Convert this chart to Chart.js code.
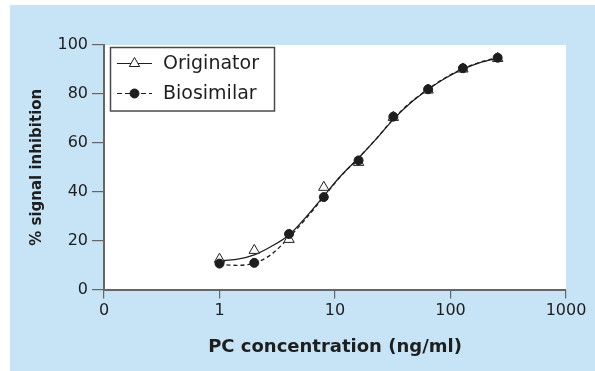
<!DOCTYPE html>
<html>
<head>
<meta charset="utf-8">
<script src="https://cdn.jsdelivr.net/npm/chart.js@4/dist/chart.umd.min.js"></script>
<style>
  html, body { margin: 0; padding: 0; background: #fff; }
  #wrap { width: 595px; height: 371px; }
</style>
</head>
<body>
<div id="wrap"><canvas id="chart" width="595" height="371"></canvas></div>
<script>
// measured points (ng/ml vs % inhibition)
const concentrations = [1, 2, 4, 8, 16, 32, 64, 128, 256];
const originatorValues = [12.4, 16, 20.5, 41.8, 52, 70.4, 81.6, 90.2, 94.5];
const biosimilarValues = [10.6, 10.9, 22.7, 37.8, 52.8, 70.7, 81.9, 90.5, 94.8];

// fitted curves
const fitConcentrations = [1, 1.4, 2, 2.8, 4, 5.7, 8, 11, 16, 23, 32, 45, 64, 90, 128, 180, 256];
const originatorFit = [11.8, 12.3, 14.2, 17.6, 22.3, 30, 38.2, 46, 53.8, 61.8, 69.6, 76.3, 81.8, 86.4, 90.1, 92.8, 94.6];
const biosimilarFit = [10.3, 9.9, 10.8, 14.3, 21.3, 29.4, 37.9, 45.9, 53.8, 61.9, 69.8, 76.5, 82, 86.6, 90.3, 93, 94.9];

// axis ticks
const xTickValues = [0.1, 1, 10, 100, 1000];
const xTickLabels = ["0", "1", "10", "100", "1000"];
const yTicks = [0, 20, 40, 60, 80, 100];

const seriesNames = ["Originator", "Biosimilar"];

const toPoints = (xs, ys) => xs.map((x, i) => ({ x: x, y: ys[i] }));

const ink = "#1e1e1e";
const axisGrey = "#666";
const bgBlue = "#c6e4f6";

// light blue panel with the white plot area
const backgroundPlugin = {
  id: "panel",
  beforeDraw(chart) {
    const ctx = chart.ctx;
    const a = chart.chartArea;
    ctx.save();
    ctx.fillStyle = "#fff";
    ctx.fillRect(0, 0, chart.width, chart.height);
    ctx.fillStyle = bgBlue;
    ctx.fillRect(10, 5, chart.width - 10, chart.height - 5);
    ctx.fillStyle = "#fff";
    ctx.fillRect(a.left, a.top, a.right - a.left, a.bottom - a.top);
    ctx.restore();
  },
};

// boxed legend with line + marker samples
const legendPlugin = {
  id: "boxLegend",
  afterDraw(chart) {
    const ctx = chart.ctx;
    const h = Chart.helpers;
    ctx.save();
    ctx.fillStyle = "#fff";
    ctx.fillRect(110, 47, 164, 64);
    ctx.strokeStyle = "#4a4a4a";
    ctx.lineWidth = 1.5;
    ctx.strokeRect(110.5, 47.5, 164, 63.5);

    const rows = [
      { y: 63.5, dash: [], marker: { pointStyle: "triangle", radius: 6, borderWidth: 1, backgroundColor: "#fff", borderColor: ink } },
      { y: 93.5, dash: [5, 3], marker: { pointStyle: "circle", radius: 4.5, borderWidth: 1, backgroundColor: ink, borderColor: ink } },
    ];
    rows.forEach((r, i) => {
      ctx.strokeStyle = ink;
      ctx.lineWidth = 1.2;
      ctx.setLineDash(r.dash);
      ctx.beginPath();
      ctx.moveTo(117, r.y);
      ctx.lineTo(152, r.y);
      ctx.stroke();
      ctx.setLineDash([]);
      ctx.fillStyle = r.marker.backgroundColor;
      ctx.strokeStyle = r.marker.borderColor;
      ctx.lineWidth = r.marker.borderWidth;
      h.drawPoint(ctx, r.marker, 134.5, r.y);
      ctx.fillStyle = ink;
      ctx.font = "19px 'DejaVu Sans'";
      ctx.textBaseline = "middle";
      ctx.textAlign = "left";
      ctx.fillText(seriesNames[i], 163, r.y + 1);
    });
    ctx.restore();
  },
};

const ctx = document.getElementById("chart").getContext("2d");
new Chart(ctx, {
  type: "scatter",
  data: {
    datasets: [
      {
        label: seriesNames[1],
        data: toPoints(concentrations, biosimilarValues),
        showLine: false,
        pointStyle: "circle",
        pointRadius: 4.5,
        pointBackgroundColor: ink,
        pointBorderColor: ink,
        pointBorderWidth: 1,
        order: 0,
      },
      {
        label: seriesNames[0],
        data: toPoints(concentrations, originatorValues),
        showLine: false,
        pointStyle: "triangle",
        pointRadius: 6,
        pointBackgroundColor: "#fff",
        pointBorderColor: ink,
        pointBorderWidth: 1,
        order: 1,
      },
      {
        label: seriesNames[0] + " fit",
        data: toPoints(fitConcentrations, originatorFit),
        showLine: true,
        borderColor: ink,
        borderWidth: 1.3,
        pointRadius: 0,
        cubicInterpolationMode: "monotone",
        order: 2,
      },
      {
        label: seriesNames[1] + " fit",
        data: toPoints(fitConcentrations, biosimilarFit),
        showLine: true,
        borderColor: ink,
        borderWidth: 1.3,
        borderDash: [4, 3],
        pointRadius: 0,
        cubicInterpolationMode: "monotone",
        order: 3,
      },
    ],
  },
  options: {
    responsive: false,
    animation: false,
    layout: { padding: { left: 10, top: 45, right: 29, bottom: 0 } },
    plugins: {
      legend: { display: false },
      tooltip: { enabled: false },
    },
    scales: {
      x: {
        type: "logarithmic",
        min: xTickValues[0],
        max: xTickValues[xTickValues.length - 1],
        afterBuildTicks(scale) {
          scale.ticks = xTickValues.map((v) => ({ value: v }));
        },
        afterFit(scale) {
          scale.height = 81.5;
        },
        grid: {
          drawOnChartArea: false,
          drawTicks: true,
          tickLength: 9,
          color: axisGrey,
          lineWidth: 1.2,
        },
        border: { color: axisGrey, width: 2 },
        ticks: {
          autoSkip: false,
          maxRotation: 0,
          padding: 3,
          color: ink,
          font: { family: "DejaVu Sans", size: 16 },
          callback(value) {
            const i = xTickValues.indexOf(value);
            return i >= 0 ? xTickLabels[i] : "";
          },
        },
        title: {
          display: true,
          text: "PC concentration (ng/ml)",
          color: ink,
          font: { family: "DejaVu Sans", size: 18, weight: "bold" },
          padding: { top: 0, bottom: 13 },
        },
      },
      y: {
        min: yTicks[0],
        max: yTicks[yTicks.length - 1],
        afterBuildTicks(scale) {
          scale.ticks = yTicks.map((v) => ({ value: v }));
        },
        afterFit(scale) {
          scale.width = 94;
        },
        grid: {
          drawOnChartArea: false,
          drawTicks: true,
          tickLength: 12,
          color: axisGrey,
          lineWidth: 1.2,
        },
        border: { color: axisGrey, width: 2 },
        ticks: {
          padding: 4,
          color: ink,
          font: { family: "DejaVu Sans", size: 16 },
        },
        title: {
          display: true,
          text: "% signal inhibition",
          color: ink,
          font: { family: "DejaVu Sans", size: 15, weight: "bold" },
          padding: { top: 18, bottom: 0 },
        },
      },
    },
  },
  plugins: [backgroundPlugin, legendPlugin],
});
</script>
</body>
</html>
